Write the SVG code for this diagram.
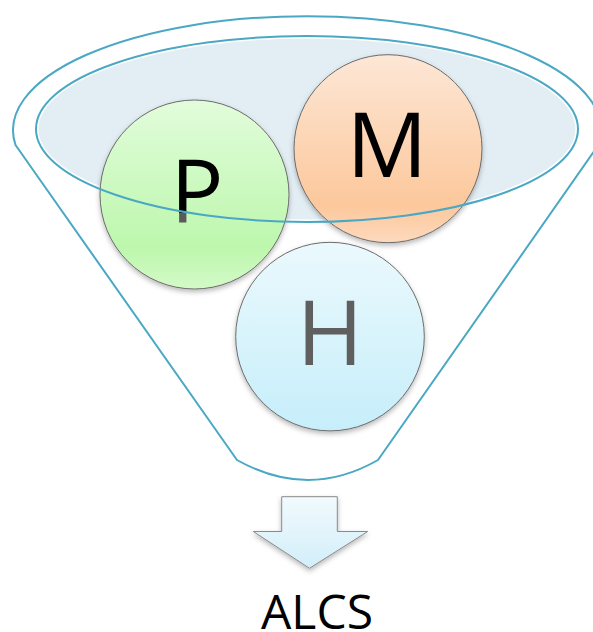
<svg xmlns="http://www.w3.org/2000/svg" width="593" height="632" viewBox="0 0 593 632">
  <defs>
    <style>
      .rim { fill: none; stroke: #4aa8c4; stroke-width: 2; stroke-linejoin: round; }
      .ball { stroke: #6b6b6b; stroke-width: 1; filter: url(#soft-shadow); }
      .letter { font-family: "Open Sans", "Liberation Sans", sans-serif; text-anchor: middle; }
    </style>
    <filter id="soft-shadow" x="-20%" y="-20%" width="140%" height="150%">
      <feDropShadow dx="0" dy="2.5" stdDeviation="2.5" flood-color="#000" flood-opacity="0.28"/>
    </filter>
    <linearGradient id="grad-p" x1="0" y1="0" x2="0" y2="1">
      <stop offset="0" stop-color="#e2fcdb"/>
      <stop offset="0.78" stop-color="#bdf7ad"/>
      <stop offset="1" stop-color="#d3fac8"/>
    </linearGradient>
    <linearGradient id="grad-m" x1="0" y1="0" x2="0" y2="1">
      <stop offset="0" stop-color="#fde7d6"/>
      <stop offset="0.8" stop-color="#fcc89c"/>
      <stop offset="1" stop-color="#fdd9bd"/>
    </linearGradient>
    <linearGradient id="grad-h" x1="0" y1="0" x2="0" y2="1">
      <stop offset="0" stop-color="#ebf9fd"/>
      <stop offset="1" stop-color="#c6eefa"/>
    </linearGradient>
    <linearGradient id="grad-arrow" x1="0" y1="0" x2="0" y2="1">
      <stop offset="0" stop-color="#f2fafd"/>
      <stop offset="1" stop-color="#d2eef9"/>
    </linearGradient>
    <!-- P is black inside the pool ellipse, grey below its rim -->
    <linearGradient id="ink-p" gradientUnits="userSpaceOnUse" x1="0" y1="150" x2="0" y2="230">
      <stop offset="0.79" stop-color="#000"/>
      <stop offset="0.79" stop-color="#5a5a5a"/>
    </linearGradient>
  </defs>

  <!-- funnel body outline: upper rim arc, tapered sides, rounded spout -->
  <g id="funnel">
    <path class="rim" d="M15.5,145 A294,114 0 1 1 598.5,145 L378,460 Q308,500 237,460 Z"/>
  </g>

  <!-- pool surface: fill beneath the balls -->
  <g id="pool-fill">
    <ellipse cx="307" cy="129" rx="271" ry="93" fill="#e3eef4" stroke="#ffffff" stroke-width="5"/>
  </g>

  <g id="node-p">
    <circle class="ball" cx="194.5" cy="194.5" r="94.5" fill="url(#grad-p)"/>
    <text class="letter" x="197" y="223" font-size="88" fill="url(#ink-p)">P</text>
  </g>

  <g id="node-m">
    <circle class="ball" cx="388" cy="148.7" r="94" fill="url(#grad-m)"/>
    <text class="letter" x="387" y="177.3" font-size="90" fill="#000">M</text>
  </g>

  <g id="node-h">
    <circle class="ball" cx="330" cy="336.6" r="94.3" fill="url(#grad-h)"/>
    <text class="letter" x="330" y="365" font-size="90" fill="#5f5f5f">H</text>
  </g>

  <!-- pool rim drawn over the balls -->
  <g id="pool-rim">
    <ellipse class="rim" cx="307" cy="129" rx="271" ry="93"/>
  </g>

  <g id="connectors">
    <path d="M281.7,496.7 H337.3 V531.5 H367.7 L309.5,568.3 L253.3,531.5 H281.7 Z"
          fill="url(#grad-arrow)" stroke="#8a8a8a" stroke-width="1" filter="url(#soft-shadow)"/>
  </g>

  <g id="output">
    <text class="letter" x="317" y="629" font-size="48" fill="#000">ALCS</text>
  </g>
</svg>
